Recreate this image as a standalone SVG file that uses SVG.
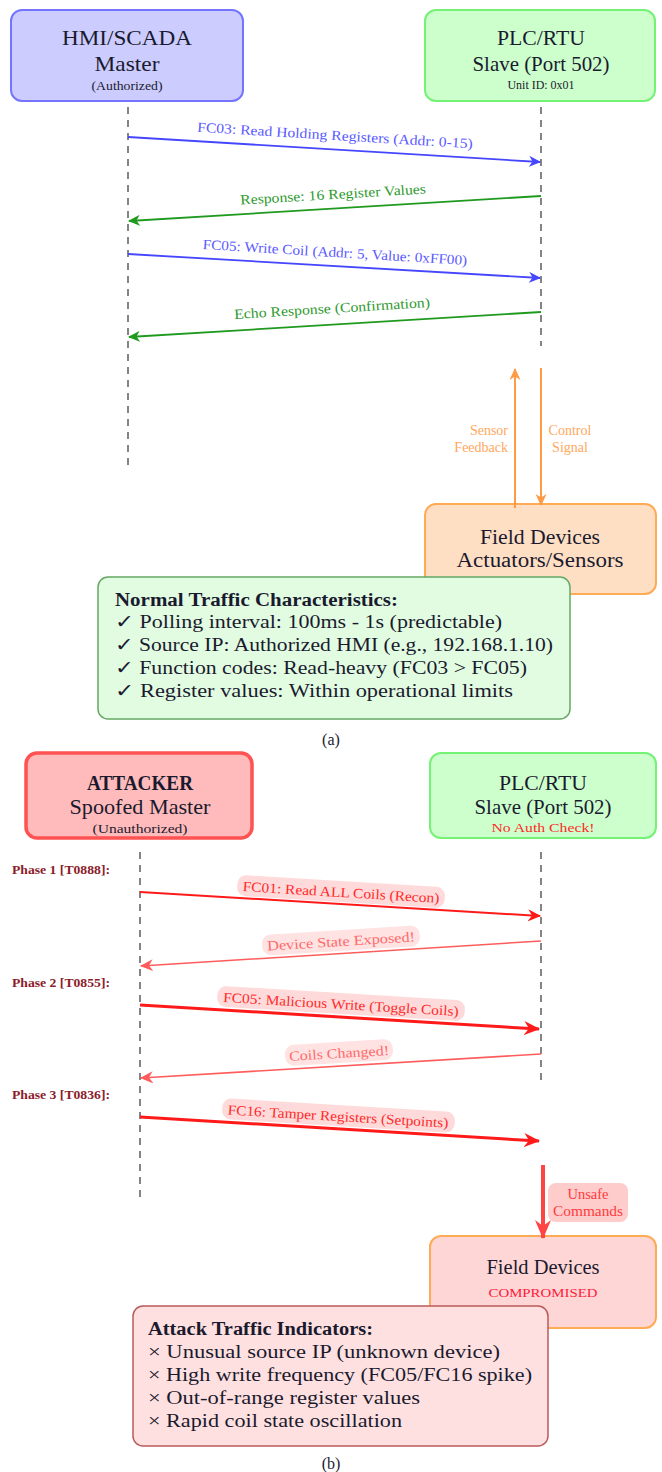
<svg xmlns="http://www.w3.org/2000/svg" width="662" height="1472" viewBox="0 0 662 1472">
<style>
text{font-family:"Liberation Serif","DejaVu Serif",serif;fill:#1a1a2e}
.t{font-size:22px;text-anchor:middle}
.f{font-size:20px;text-anchor:middle}
.s{font-size:13px;text-anchor:middle}
.b{font-size:18.5px}
.lbl{font-size:14px;text-anchor:middle}
.life{stroke:#666;stroke-width:1.6;stroke-dasharray:7 6;fill:none}
.ph{font-size:11.5px;font-weight:bold;fill:#8b1c2c}
</style>
<defs>
<marker id="mBlue" markerUnits="userSpaceOnUse" markerWidth="13" markerHeight="11" refX="11" refY="5.5" orient="auto"><path d="M0,0 L12,5.5 L0,11 L3.5,5.5 Z" fill="#4646ff"/></marker>
<marker id="mGreen" markerUnits="userSpaceOnUse" markerWidth="13" markerHeight="11" refX="11" refY="5.5" orient="auto"><path d="M0,0 L12,5.5 L0,11 L3.5,5.5 Z" fill="#1f9a1f"/></marker>
<marker id="mOrange" markerUnits="userSpaceOnUse" markerWidth="13" markerHeight="11" refX="11" refY="5.5" orient="auto"><path d="M0,0 L12,5.5 L0,11 L3.5,5.5 Z" fill="#ff9a45"/></marker>
<marker id="mRed" markerUnits="userSpaceOnUse" markerWidth="14" markerHeight="12" refX="12" refY="6" orient="auto"><path d="M0,0 L13,6 L0,12 L4,6 Z" fill="#ff1a1a"/></marker>
<marker id="mRedBig" markerUnits="userSpaceOnUse" markerWidth="17" markerHeight="14" refX="15" refY="7" orient="auto"><path d="M0,0 L16,7 L0,14 L5,7 Z" fill="#ff1a1a"/></marker>
<marker id="mPink" markerUnits="userSpaceOnUse" markerWidth="14" markerHeight="12" refX="12" refY="6" orient="auto"><path d="M0,0 L13,6 L0,12 L4,6 Z" fill="#ff5c5c"/></marker>
<marker id="mUnsafe" markerUnits="userSpaceOnUse" markerWidth="20" markerHeight="16" refX="18" refY="8" orient="auto"><path d="M0,0 L19,8 L0,16 L6,8 Z" fill="#ff4444"/></marker>
</defs>

<!-- ===== Part (a) ===== -->
<g id="hmi">
<rect x="11" y="10" width="232" height="91" rx="11" fill="#ccccff" stroke="#7474ff" stroke-width="2"/>
<text class="t" x="127" y="45" textLength="130" lengthAdjust="spacingAndGlyphs">HMI/SCADA</text>
<text class="t" x="127" y="71" textLength="65" lengthAdjust="spacingAndGlyphs">Master</text>
<text class="s" x="127" y="90" textLength="71" lengthAdjust="spacingAndGlyphs">(Authorized)</text>
</g>
<g id="plc-a">
<rect x="425" y="10" width="230" height="91" rx="11" fill="#ccffcc" stroke="#74f274" stroke-width="2"/>
<text class="t" x="541" y="45" textLength="88" lengthAdjust="spacingAndGlyphs">PLC/RTU</text>
<text class="t" x="541" y="71" textLength="137" lengthAdjust="spacingAndGlyphs">Slave (Port 502)</text>
<text class="s" x="541" y="89" textLength="67" lengthAdjust="spacingAndGlyphs">Unit ID: 0x01</text>
</g>
<g id="field-a">
<rect x="425" y="504" width="231" height="90" rx="11" fill="#ffdfc4" stroke="#ffaa55" stroke-width="2"/>
<text class="f" x="540" y="544" textLength="120" lengthAdjust="spacingAndGlyphs">Field Devices</text>
<text class="f" x="540" y="567" textLength="167" lengthAdjust="spacingAndGlyphs">Actuators/Sensors</text>
</g>
<g id="normal-box">
<rect x="98" y="577" width="472" height="142" rx="10" fill="#e2fce2" stroke="#66a866" stroke-width="1.5"/>
<text class="b" x="115" y="606" font-weight="bold" textLength="283" lengthAdjust="spacingAndGlyphs">Normal Traffic Characteristics:</text>
<text class="b" x="115" y="628" textLength="387" lengthAdjust="spacingAndGlyphs">✓ Polling interval: 100ms - 1s (predictable)</text>
<text class="b" x="115" y="651" textLength="438" lengthAdjust="spacingAndGlyphs">✓ Source IP: Authorized HMI (e.g., 192.168.1.10)</text>
<text class="b" x="115" y="674" textLength="412" lengthAdjust="spacingAndGlyphs">✓ Function codes: Read-heavy (FC03 &gt; FC05)</text>
<text class="b" x="115" y="697" textLength="398" lengthAdjust="spacingAndGlyphs">✓ Register values: Within operational limits</text>
</g>
<text x="331" y="745" style="font-size:16px;text-anchor:middle">(a)</text>

<g id="connectors-a">
<line class="life" x1="128" y1="107" x2="128" y2="470"/>
<line class="life" x1="541" y1="107" x2="541" y2="346"/>
<line x1="128" y1="137" x2="540" y2="162" stroke="#4646ff" stroke-width="1.8" marker-end="url(#mBlue)"/>
<text class="lbl" x="335" y="140" style="fill:#5a5aff" transform="rotate(3.46 335 135)" textLength="276" lengthAdjust="spacingAndGlyphs">FC03: Read Holding Registers (Addr: 0-15)</text>
<line x1="541" y1="196" x2="129" y2="221" stroke="#1f9a1f" stroke-width="1.8" marker-end="url(#mGreen)"/>
<text class="lbl" x="333" y="199" style="fill:#2e9a2e" transform="rotate(-3.46 333 194)" textLength="186" lengthAdjust="spacingAndGlyphs">Response: 16 Register Values</text>
<line x1="128" y1="254" x2="540" y2="278" stroke="#4646ff" stroke-width="1.8" marker-end="url(#mBlue)"/>
<text class="lbl" x="335" y="257" style="fill:#5a5aff" transform="rotate(3.46 335 252)" textLength="265" lengthAdjust="spacingAndGlyphs">FC05: Write Coil (Addr: 5, Value: 0xFF00)</text>
<line x1="541" y1="312" x2="129" y2="337" stroke="#1f9a1f" stroke-width="1.8" marker-end="url(#mGreen)"/>
<text class="lbl" x="332" y="313" style="fill:#2e9a2e" transform="rotate(-3.46 332 308)" textLength="196" lengthAdjust="spacingAndGlyphs">Echo Response (Confirmation)</text>
<line x1="515" y1="508" x2="515" y2="369" stroke="#ff9a45" stroke-width="2" marker-end="url(#mOrange)"/>
<line x1="541" y1="368" x2="541" y2="505" stroke="#ff9a45" stroke-width="2" marker-end="url(#mOrange)"/>
<text x="508" y="435" style="font-size:14px;text-anchor:end;fill:#ffa860">Sensor</text>
<text x="508" y="452" style="font-size:14px;text-anchor:end;fill:#ffa860">Feedback</text>
<text x="570" y="435" style="font-size:14px;text-anchor:middle;fill:#ffa860">Control</text>
<text x="570" y="452" style="font-size:14px;text-anchor:middle;fill:#ffa860">Signal</text>
</g>

<!-- ===== Part (b) ===== -->
<g id="attacker">
<rect x="26" y="753" width="226" height="85" rx="11" fill="#ffbbbb" stroke="#ff5252" stroke-width="3.5"/>
<text class="t" x="140" y="790" font-weight="bold" textLength="106" lengthAdjust="spacingAndGlyphs">ATTACKER</text>
<text class="t" x="140" y="814" textLength="141" lengthAdjust="spacingAndGlyphs">Spoofed Master</text>
<text class="s" x="140" y="833" textLength="95" lengthAdjust="spacingAndGlyphs">(Unauthorized)</text>
</g>
<g id="plc-b">
<rect x="430" y="753" width="226" height="85" rx="11" fill="#ccffcc" stroke="#74f274" stroke-width="2"/>
<text class="t" x="543" y="790" textLength="88" lengthAdjust="spacingAndGlyphs">PLC/RTU</text>
<text class="t" x="543" y="814" textLength="137" lengthAdjust="spacingAndGlyphs">Slave (Port 502)</text>
<text class="s" x="543" y="832" style="fill:#ff2a2a" textLength="103" lengthAdjust="spacingAndGlyphs">No Auth Check!</text>
</g>
<g id="field-b">
<rect x="430" y="1236" width="226" height="92" rx="11" fill="#ffd6d6" stroke="#ffaa55" stroke-width="2"/>
<text class="f" x="543" y="1274" textLength="113" lengthAdjust="spacingAndGlyphs">Field Devices</text>
<text class="s" x="543" y="1297" style="font-size:13.5px;fill:#ff1a3a" textLength="109" lengthAdjust="spacingAndGlyphs">COMPROMISED</text>
</g>
<g id="attack-box">
<rect x="133" y="1306" width="415" height="140" rx="10" fill="#ffe0e0" stroke="#bb5a5a" stroke-width="1.5"/>
<text class="b" x="148" y="1335" font-weight="bold" textLength="225" lengthAdjust="spacingAndGlyphs">Attack Traffic Indicators:</text>
<text class="b" x="148" y="1358" textLength="352" lengthAdjust="spacingAndGlyphs">× Unusual source IP (unknown device)</text>
<text class="b" x="148" y="1381" textLength="384" lengthAdjust="spacingAndGlyphs">× High write frequency (FC05/FC16 spike)</text>
<text class="b" x="148" y="1404" textLength="272" lengthAdjust="spacingAndGlyphs">× Out-of-range register values</text>
<text class="b" x="148" y="1427" textLength="254" lengthAdjust="spacingAndGlyphs">× Rapid coil state oscillation</text>
</g>
<text x="331" y="1469" style="font-size:16px;text-anchor:middle">(b)</text>

<g id="phases">
<text class="ph" x="12" y="874" textLength="98" lengthAdjust="spacingAndGlyphs">Phase 1 [T0888]:</text>
<text class="ph" x="12" y="987" textLength="98" lengthAdjust="spacingAndGlyphs">Phase 2 [T0855]:</text>
<text class="ph" x="12" y="1099" textLength="98" lengthAdjust="spacingAndGlyphs">Phase 3 [T0836]:</text>
</g>

<g id="connectors-b">
<line class="life" x1="140" y1="852" x2="140" y2="1200"/>
<line class="life" x1="541" y1="852" x2="541" y2="1080"/>
<line x1="140" y1="892" x2="540" y2="916" stroke="#ff1a1a" stroke-width="2" marker-end="url(#mRed)"/>
<g transform="rotate(3.43 341 892)"><rect x="237" y="881" width="208" height="21" rx="9" fill="#ffdada"/>
<text class="lbl" x="341" y="897" style="fill:#ff2a2a" textLength="197" lengthAdjust="spacingAndGlyphs">FC01: Read ALL Coils (Recon)</text></g>
<line x1="541" y1="941" x2="141" y2="966" stroke="#ff5c5c" stroke-width="1.6" marker-end="url(#mPink)"/>
<g transform="rotate(-3.57 341 941)"><rect x="262" y="930" width="158" height="21" rx="9" fill="#ffe2e2"/>
<text class="lbl" x="341" y="946" style="fill:#ff6a6a" textLength="148" lengthAdjust="spacingAndGlyphs">Device State Exposed!</text></g>
<line x1="140" y1="1005" x2="539" y2="1029" stroke="#ff1a1a" stroke-width="3" marker-end="url(#mRedBig)"/>
<g transform="rotate(3.43 341 1004)"><rect x="217" y="993" width="248" height="21" rx="9" fill="#ffdada"/>
<text class="lbl" x="341" y="1009" style="fill:#ff2a2a" textLength="236" lengthAdjust="spacingAndGlyphs">FC05: Malicious Write (Toggle Coils)</text></g>
<line x1="541" y1="1054" x2="141" y2="1078" stroke="#ff5c5c" stroke-width="1.6" marker-end="url(#mPink)"/>
<g transform="rotate(-3.43 339 1053)"><rect x="285" y="1042" width="108" height="21" rx="9" fill="#ffe2e2"/>
<text class="lbl" x="339" y="1058" style="fill:#ff6a6a" textLength="100" lengthAdjust="spacingAndGlyphs">Coils Changed!</text></g>
<line x1="140" y1="1117" x2="539" y2="1141" stroke="#ff1a1a" stroke-width="3" marker-end="url(#mRedBig)"/>
<g transform="rotate(3.43 338 1116)"><rect x="222" y="1105" width="233" height="21" rx="9" fill="#ffdada"/>
<text class="lbl" x="338" y="1121" style="fill:#ff2a2a" textLength="221" lengthAdjust="spacingAndGlyphs">FC16: Tamper Registers (Setpoints)</text></g>
<line x1="543" y1="1165" x2="543" y2="1238" stroke="#ff4444" stroke-width="4" marker-end="url(#mUnsafe)"/>
<rect x="548" y="1183" width="80" height="39" rx="8" fill="#ffcccc"/>
<text x="588" y="1199" style="font-size:14px;text-anchor:middle;fill:#ff3a3a" textLength="41" lengthAdjust="spacingAndGlyphs">Unsafe</text>
<text x="588" y="1216" style="font-size:14px;text-anchor:middle;fill:#ff3a3a" textLength="70" lengthAdjust="spacingAndGlyphs">Commands</text>
</g>
</svg>
